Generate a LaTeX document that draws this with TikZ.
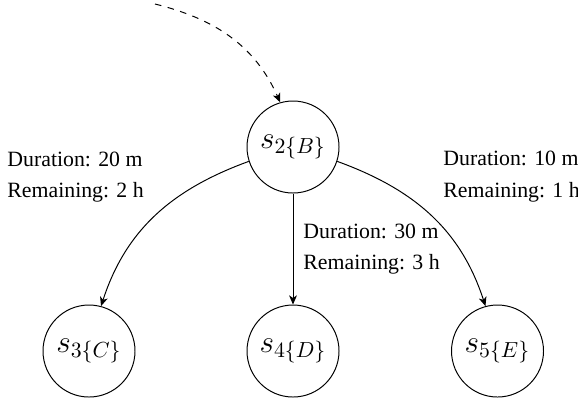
\documentclass[tikz,border=0pt]{standalone}
\usepackage[no-math]{fontspec}
\setmainfont{Liberation Serif}
\usetikzlibrary{arrows.meta}
\begin{document}
\begin{tikzpicture}[x=0.4587pt,y=-0.4587pt,
  state/.style={draw,circle,minimum size=42.2pt,inner sep=0pt,font=\Large,line width=0.45pt},
  lab/.style={anchor=base west,inner sep=0pt,font=\rmfamily\fontsize{10}{12}\selectfont},
  conn/.style={-{Stealth[length=4.2pt,width=3.6pt,inset=1.2pt]},line width=0.45pt}]
\useasboundingbox (0,0) rectangle (578,405);
\node[state] (s2) at (293,147) {$s_{2\{B\}}$};
\node[state] (s3) at (89,351) {$s_{3\{C\}}$};
\node[state] (s4) at (293,351) {$s_{4\{D\}}$};
\node[state] (s5) at (497.5,351) {$s_{5\{E\}}$};
\coordinate (start) at (155,4);
\draw[conn,dashed] (start) to[out=-14,in=114] (s2.106);
\draw[conn] (s2.198) to[out=200,in=72] (s3.75);
\draw[conn] (s2) -- (s4);
\draw[conn] (s2.-18) to[out=-20,in=108] (s5.105);
\node[lab] (l3a) at (7,166) {Duration: 20 m};
\node[lab] (l3b) at (7,197) {Remaining: 2 h};
\node[lab] (l4a) at (303,238) {Duration: 30 m};
\node[lab] (l4b) at (303,269) {Remaining: 3 h};
\node[lab] (l5a) at (443,165) {Duration: 10 m};
\node[lab] (l5b) at (443,197) {Remaining: 1 h};
\end{tikzpicture}
\end{document}
